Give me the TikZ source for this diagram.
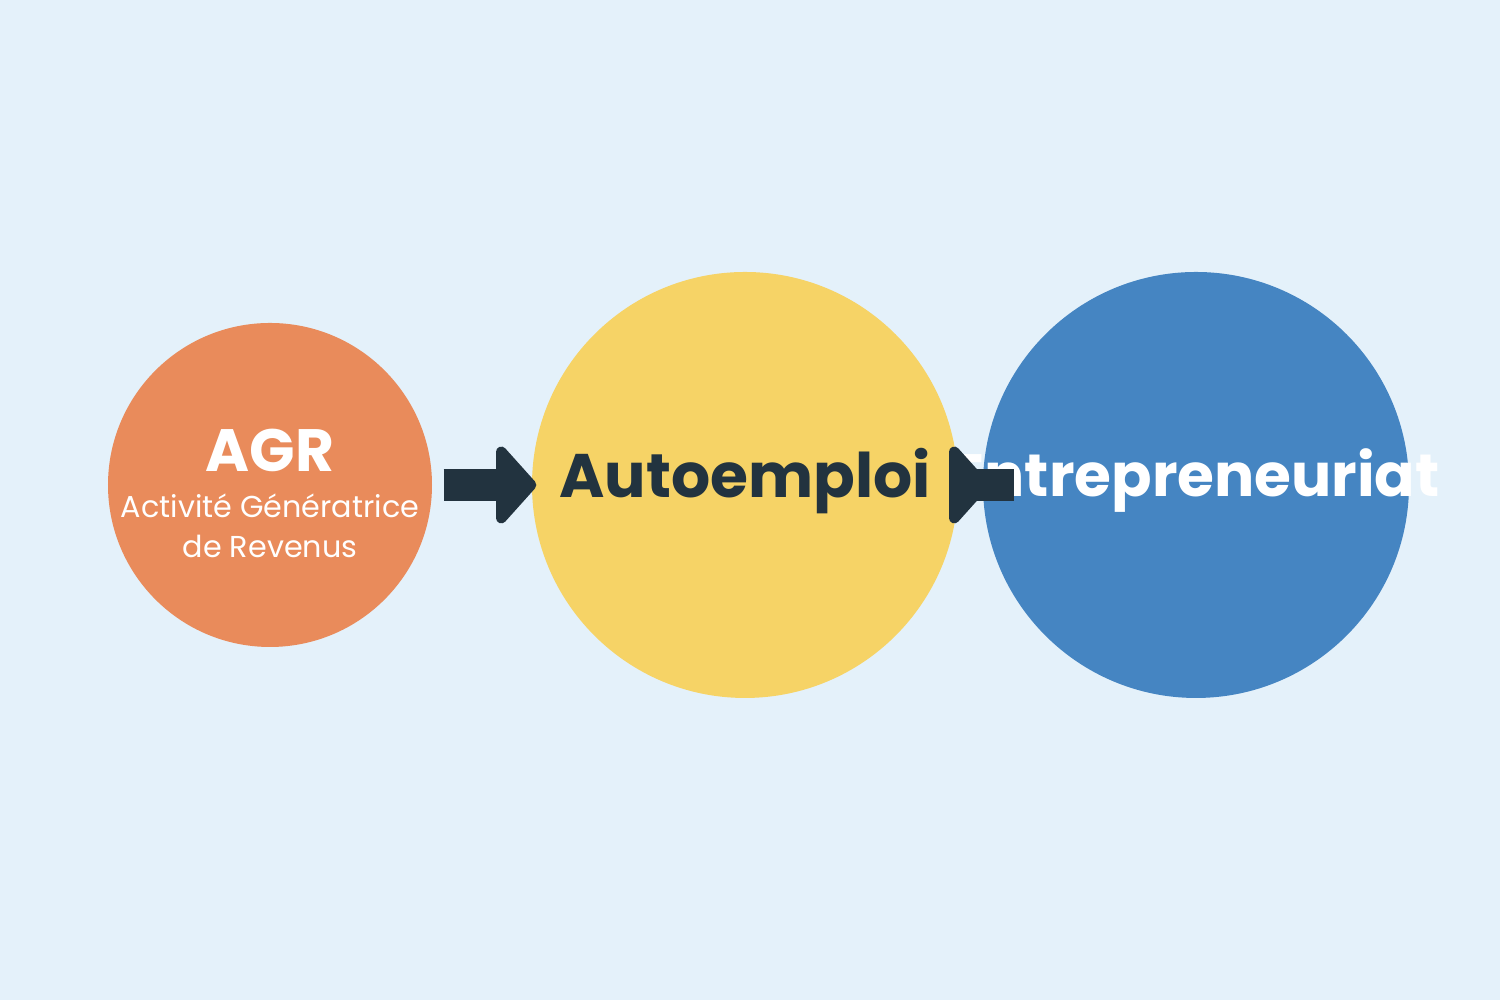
\documentclass[tikz,border=0pt]{standalone}
\usepackage{fontspec}
\setmainfont{Poppins}
\usetikzlibrary{arrows.meta}
\definecolor{bgblue}{HTML}{E4F1FA}
\definecolor{agrorange}{HTML}{E98B5B}
\definecolor{autoyellow}{HTML}{F6D366}
\definecolor{entblue}{HTML}{4585C2}
\definecolor{arrowdark}{HTML}{22333F}
\tikzset{
  stage/.style={circle, inner sep=0pt, draw=none},
  flow/.style={arrowdark, line width=9pt,
    -{Triangle[round, length=12pt, width=26pt]}}
}
\begin{document}
\begin{tikzpicture}
        \fill[bgblue] (0,0) rectangle (15,10);
        \useasboundingbox (0,0) rectangle (15,10);

        % stages
        \node[stage, fill=agrorange, minimum size=3.24cm] (agr) at (2.70, 5.15) {};
        \node[stage, fill=autoyellow, minimum size=4.26cm] (auto) at (7.45, 5.15) {};
        \node[stage, fill=entblue, minimum size=4.26cm] (ent) at (11.96, 5.15) {};

        % labels
        \node[white, font=\bfseries\fontsize{17}{20}\selectfont] (agrtitle) at (2.70, 5.50) {AGR};
        \node[white, align=center, font=\fontsize{8.6}{11.2}\selectfont] (agrtext) at (2.70, 4.74)
          {Activité Génératrice\\de Revenus};
        \node[arrowdark, font=\bfseries\fontsize{17.5}{20}\selectfont] (autotext) at (7.45, 5.19) {Autoemploi};
        \node[white, font=\bfseries\fontsize{17}{20}\selectfont] (enttext) at (11.96, 5.19) {Entrepreneuriat};

        % arrows
        \draw[flow, shorten <=0.11cm, shorten >=-0.05cm] (agr.east) -- (auto.west);
        \draw[flow, shorten <=-0.55cm, shorten >=-0.07cm] (auto.east) -- (ent.west);
    \end{tikzpicture}
\end{document}
